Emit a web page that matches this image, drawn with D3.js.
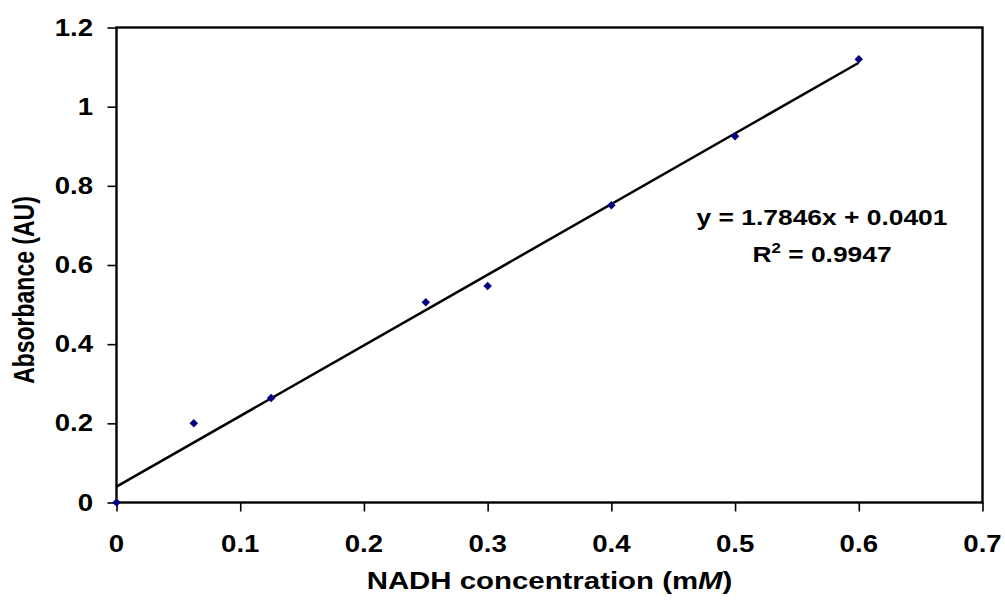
<!DOCTYPE html>
<html>
<head>
<meta charset="utf-8">
<script src="https://cdn.jsdelivr.net/npm/d3@7"></script>
<style>
  html, body { margin: 0; padding: 0; background: #fff; }
  svg text { font-family: "Liberation Sans", Arial, sans-serif; font-weight: bold; fill: #000; }
</style>
</head>
<body>
<svg id="chart" width="1005" height="605"></svg>
<script>
// NADH standard curve: concentration (mM) vs absorbance (AU)
const concentrations = [0, 0.0625, 0.125, 0.25, 0.3, 0.4, 0.5, 0.6];
const absorbances    = [0, 0.200, 0.264, 0.506, 0.547, 0.751, 0.925, 1.120];

// Linear fit reported on the chart
const fitSlope = 1.7846;
const fitIntercept = 0.0401;
const fitR2 = "0.9947";

const xTicks = [0, 0.1, 0.2, 0.3, 0.4, 0.5, 0.6, 0.7];
const xTickLabels = ["0", "0.1", "0.2", "0.3", "0.4", "0.5", "0.6", "0.7"];
const yTicks = [0, 0.2, 0.4, 0.6, 0.8, 1.0, 1.2];
const yTickLabels = ["0", "0.2", "0.4", "0.6", "0.8", "1", "1.2"];

const svg = d3.select("#chart");
const plot = { left: 116.5, right: 982.5, top: 27.5, bottom: 502.5 };
const stretch = 1.2;   // wide lettering
const fontSize = 23;

const x = d3.scaleLinear().domain([0, 0.7]).range([plot.left, plot.right]);
const y = d3.scaleLinear().domain([0, 1.2]).range([plot.bottom, plot.top]);

// Axes (tick marks only; labels drawn separately)
svg.append("g")
  .attr("transform", `translate(0,${plot.bottom})`)
  .call(d3.axisBottom(x).tickValues(xTicks).tickFormat("").tickSize(9).tickSizeOuter(0))
  .call(g => g.select(".domain").remove())
  .call(g => g.selectAll(".tick line").attr("stroke", "#000").attr("stroke-width", 1.6));

svg.append("g")
  .attr("transform", `translate(${plot.left},0)`)
  .call(d3.axisLeft(y).tickValues(yTicks).tickFormat("").tickSize(9).tickSizeOuter(0))
  .call(g => g.select(".domain").remove())
  .call(g => g.selectAll(".tick line").attr("stroke", "#000").attr("stroke-width", 1.6));

// Plot frame
svg.append("rect")
  .attr("x", plot.left).attr("y", plot.top)
  .attr("width", plot.right - plot.left).attr("height", plot.bottom - plot.top)
  .attr("fill", "none").attr("stroke", "#000").attr("stroke-width", 2.4);

// Tick labels
svg.append("g").selectAll("text")
  .data(xTicks)
  .join("text")
  .attr("transform", d => `translate(${x(d)},544) scale(${stretch},1)`)
  .attr("text-anchor", "middle")
  .attr("dy", "0.35em")
  .style("font-size", fontSize + "px")
  .text((d, i) => xTickLabels[i]);

svg.append("g").selectAll("text")
  .data(yTicks)
  .join("text")
  .attr("transform", d => `translate(93,${y(d)}) scale(${stretch},1)`)
  .attr("text-anchor", "end")
  .attr("dy", "0.35em")
  .style("font-size", fontSize + "px")
  .text((d, i) => yTickLabels[i]);

// Axis titles
const xTitle = svg.append("text")
  .attr("transform", `translate(${(plot.left + plot.right) / 2},580) scale(${stretch},1)`)
  .attr("text-anchor", "middle")
  .attr("dy", "0.35em")
  .style("font-size", "24.5px");
xTitle.append("tspan").text("NADH concentration (m");
xTitle.append("tspan").style("font-style", "italic").text("M");
xTitle.append("tspan").text(")");

svg.append("text")
  .attr("transform", `translate(24,${(plot.top + plot.bottom) / 2 + 25}) scale(1.25,1) rotate(-90)`)
  .attr("text-anchor", "middle")
  .attr("dy", "0.35em")
  .style("font-size", "23px")
  .text("Absorbance (AU)");

// Fitted trendline across the measured range
const xExtent = d3.extent(concentrations);
svg.append("line")
  .attr("x1", x(xExtent[0])).attr("y1", y(fitSlope * xExtent[0] + fitIntercept))
  .attr("x2", x(xExtent[1])).attr("y2", y(fitSlope * xExtent[1] + fitIntercept))
  .attr("stroke", "#000").attr("stroke-width", 2.5);

// Data points (navy diamonds)
const diamond = d3.symbol().type(d3.symbolSquare).size(36);
svg.append("g").selectAll("path")
  .data(concentrations.map((c, i) => [c, absorbances[i]]))
  .join("path")
  .attr("d", diamond)
  .attr("transform", d => `translate(${x(d[0])},${y(d[1])}) rotate(45)`)
  .attr("fill", "#000080");

// Regression equation
const eqX = 822;
svg.append("text")
  .attr("transform", `translate(${eqX},225) scale(${stretch},1)`)
  .attr("text-anchor", "middle")
  .style("font-size", "22px")
  .text(`y = ${fitSlope}x + ${fitIntercept}`);

const r2 = svg.append("text")
  .attr("transform", `translate(${eqX},262) scale(${stretch},1)`)
  .attr("text-anchor", "middle")
  .style("font-size", "22px");
r2.append("tspan").text("R");
r2.append("tspan").attr("dy", -9).style("font-size", "14px").text("2");
r2.append("tspan").attr("dy", 9).text(` = ${fitR2}`);
</script>
</body>
</html>
